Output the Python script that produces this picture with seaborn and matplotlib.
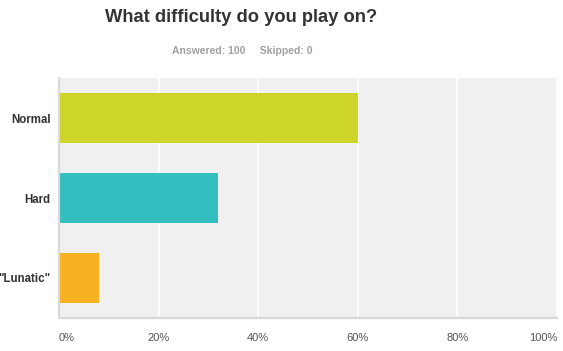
import matplotlib
matplotlib.use('Agg')
import matplotlib.pyplot as plt
import seaborn as sns
import pandas as pd

# Datos
categorias = ['Normal', 'Hard', '"Lunatic"']
porcentajes = [60, 32, 8]
colores = ['#cdd529', '#33bec0', '#f8b120']
ticks_x = [0, 20, 40, 60, 80, 100]
etiquetas_x = ['0%', '20%', '40%', '60%', '80%', '100%']

df = pd.DataFrame({'Dificultad': categorias, 'Porcentaje': porcentajes})

sns.set_style('white')
plt.rcParams['font.family'] = ['Liberation Sans', 'DejaVu Sans']

fig = plt.figure(figsize=(5.63, 3.51), dpi=100)
ax = fig.add_axes([59 / 563, 1 - 318 / 351, 498 / 563, 240 / 351])
ax.set_facecolor('#f0f0f0')

sns.barplot(data=df, y='Dificultad', x='Porcentaje', hue='Dificultad',
            palette=colores, width=0.625, saturation=1, legend=False,
            linewidth=0, edgecolor='none', zorder=2, ax=ax)

ax.set_xlim(0, 100)
ax.set_ylim(2.5, -0.5)
ax.set_xticks(ticks_x)
ax.set_xticklabels(etiquetas_x, fontsize=8, color='#555555')
for lbl, ha in zip(ax.get_xticklabels(), ['left', 'center', 'center', 'center', 'center', 'right']):
    lbl.set_ha(ha)
ax.tick_params(axis='x', length=0, pad=11)
ax.tick_params(axis='y', length=0, pad=6)
for lbl in ax.get_yticklabels():
    lbl.set_fontweight('bold')
    lbl.set_fontsize(8.3)
    lbl.set_color('#333333')

ax.grid(axis='x', color='white', linewidth=1.2, zorder=1)
ax.set_axisbelow(True)
ax.set_xlabel('')
ax.set_ylabel('')

for lado in ['top', 'right']:
    ax.spines[lado].set_visible(False)
for lado in ['left', 'bottom']:
    ax.spines[lado].set_color('#d9d9d9')
    ax.spines[lado].set_linewidth(1.6)

fig.text(241.5 / 563, 1 - 18 / 351, 'What difficulty do you play on?', ha='center', va='center',
         fontsize=13.2, fontweight='bold', color='#333333')
fig.text(242.5 / 563, 1 - 51 / 351, 'Answered: 100     Skipped: 0', ha='center', va='center',
         fontsize=7.5, fontweight='bold', color='#a0a0a0')

plt.savefig('out.png', dpi=100)
plt.close()
